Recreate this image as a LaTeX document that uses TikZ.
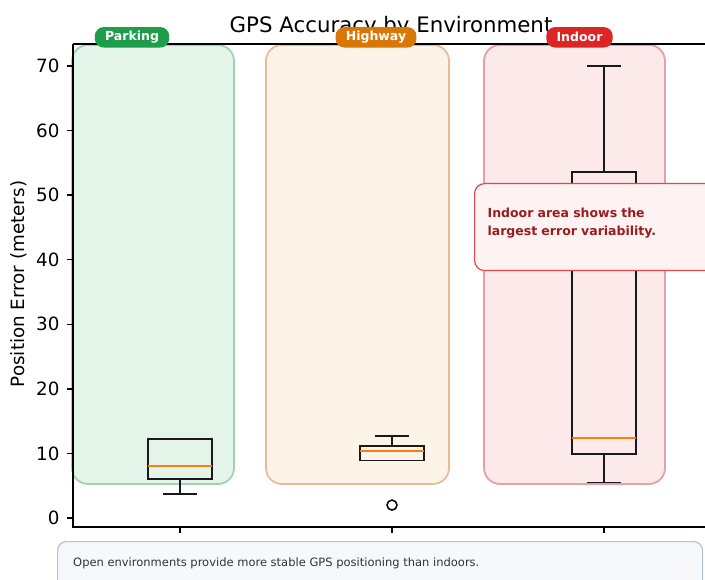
\documentclass[tikz,border=0pt]{standalone}
\usepackage{fontspec}
\setmainfont{DejaVu Sans}
\usetikzlibrary{positioning}
\definecolor{park}{HTML}{E3F5E9}
\definecolor{parkD}{HTML}{A3D2B2}
\definecolor{parkB}{HTML}{1E9E4B}
\definecolor{hwy}{HTML}{FDF4E8}
\definecolor{hwyD}{HTML}{E8BC96}
\definecolor{hwyB}{HTML}{D97706}
\definecolor{ind}{HTML}{FCE9EA}
\definecolor{indD}{HTML}{E6A0A5}
\definecolor{indB}{HTML}{DC2626}
\definecolor{noteF}{HTML}{FEF2F3}
\definecolor{noteD}{HTML}{E0474C}
\definecolor{noteT}{HTML}{9B1C1C}
\definecolor{footF}{HTML}{F6F8FB}
\definecolor{footD}{HTML}{B5C1D3}
\definecolor{footT}{HTML}{333333}
\definecolor{med}{HTML}{FF7F0E}
\def\px#1{\fontsize{#1}{#1}\selectfont}
% x, low, q1, median, q3, high
\newcommand\gpsbox[6]{%
  \draw[whisk] (#1,#2) -- (#1,#3) (#1,#5) -- (#1,#6);
  \draw[whisk] (#1-17,#2) -- (#1+17,#2) (#1-17,#6) -- (#1+17,#6);
  \draw[whisk] (#1-32,#3) rectangle (#1+32,#5);
  \draw[medline] (#1-32,#4) -- (#1+32,#4);}

\begin{document}
\begin{tikzpicture}[x=1pt,y=-1pt,
  band/.style={line width=1.8pt,rounded corners=16pt},
  badge/.style={text=white,font=\px{12.5}\bfseries,rounded corners=9pt,
    minimum height=20.5pt,inner xsep=10.3pt,inner ysep=0pt},
  whisk/.style={line width=1.7pt,draw=black!90},
  medline/.style={line width=1.7pt,draw=med},
  spine/.style={line width=1.5pt},
  ticklab/.style={font=\px{18.3},inner sep=0pt},
  note/.style={draw=noteD,fill=noteF,line width=1.2pt,rounded corners=10pt,
    text=noteT,font=\fontsize{12.5}{18}\selectfont\bfseries,align=left,
    text width=224pt,inner xsep=13pt,minimum height=87pt,text depth=28pt},
  footbox/.style={draw=footD,fill=footF,line width=1.2pt,rounded corners=9pt,
    minimum width=645pt,minimum height=60pt,inner sep=0pt}]
  \useasboundingbox (0,0) rectangle (705,580);
  \draw[band,fill=park,draw=parkD] (72,45) rectangle (234,484);
  \draw[band,fill=hwy,draw=hwyD] (266,45) rectangle (449,484);
  \draw[band,fill=ind,draw=indD] (484,45) rectangle (665,484);
  \begin{scope}[shift={(0,518)},y=6.457pt]
    \gpsbox{180}{3.7}{6.0}{8.1}{12.2}{12.2}
    \gpsbox{392}{8.9}{8.9}{10.4}{11.2}{12.65}
    \gpsbox{604}{5.5}{9.9}{12.4}{53.6}{70}
    \node[draw,circle,line width=1.5pt,minimum size=10pt,inner sep=0pt] (flier) at (392,2) {};
    \foreach \v in {0,10,...,70}
      \draw[spine] (73,\v) -- (66.6,\v) node[ticklab,left=6.4pt] {\v};
  \end{scope}
  \draw[spine] (73,44) -- (73,527) -- (712,527);
  \draw[spine] (73,44) -- (712,44);
  \foreach \x in {180,392,604}
    \draw[spine] (\x,527) -- (\x,533.4);
  \node[font=\px{18.3},rotate=90] (ylab) at (19,284) {Position Error (meters)};
  \node[font=\px{21.3},anchor=base] (title) at (391,33) {GPS Accuracy by Environment};
  \node[badge,fill=parkB] (bpark) at (132,37.3) {Parking};
  \node[badge,fill=hwyB] (bhwy) at (376,37.3) {Highway};
  \node[badge,fill=indB] (bind) at (579.5,37.3) {Indoor};
  \node[note,anchor=north west] (noteind) at (474,183) {Indoor area shows the\\largest error variability.};
  \node[footbox,anchor=north west] (footer) at (57,541) {};
  \node[font=\px{11.5},text=footT,anchor=base west,inner sep=0pt] (footnote) at (73,566)
    {Open environments provide more stable GPS positioning than indoors.};
\end{tikzpicture}
\end{document}
